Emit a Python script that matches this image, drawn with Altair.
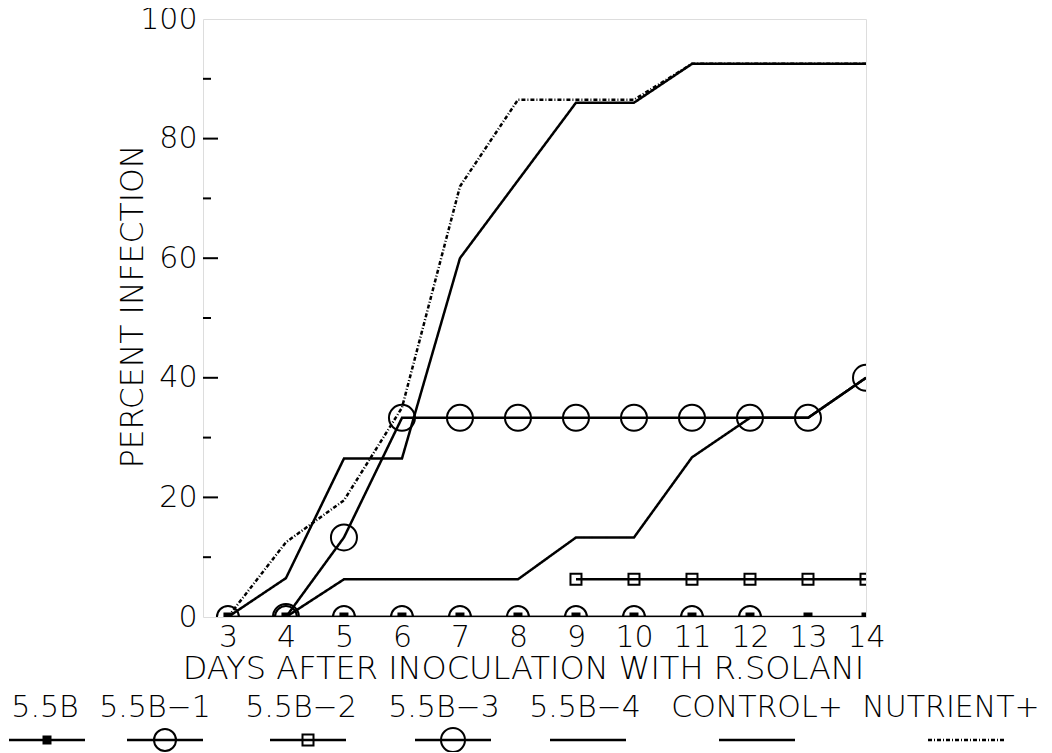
import altair as alt
import pandas as pd

# ---------------- data ----------------
series_names = ["5.5B", "5.5B−1", "5.5B−2", "5.5B−3", "5.5B−4", "CONTROL+", "NUTRIENT+"]
x_ticks = [3, 4, 5, 6, 7, 8, 9, 10, 11, 12, 13, 14]
y_ticks = [0, 20, 40, 60, 80, 100]
y_inner_ticks = [10, 20, 30, 40, 50, 60, 70, 80, 90]
y_inner_kind = ["minor", "major", "minor", "major", "minor", "major", "minor", "major", "minor"]

b55_days = [3, 4, 5, 6, 7, 8, 9, 10, 11, 12, 13, 14]
b55_vals = [0, 0, 0, 0, 0, 0, 0, 0, 0, 0, 0, 0]

b551_days = [3, 4, 5, 6, 7, 8, 9, 10, 11, 12]
b551_vals = [0, 0, 0, 0, 0, 0, 0, 0, 0, 0]

b552_days = [9, 10, 11, 12, 13, 14]
b552_vals = [6.3, 6.3, 6.3, 6.3, 6.3, 6.3]

b553_days = [4, 5, 6, 7, 8, 9, 10, 11, 12, 13, 14]
b553_vals = [0, 13.3, 33.3, 33.3, 33.3, 33.3, 33.3, 33.3, 33.3, 33.3, 40]

b554_days = [4, 5, 6, 7, 8, 9, 10, 11, 12, 13, 14]
b554_vals = [0, 6.3, 6.3, 6.3, 6.3, 13.3, 13.3, 26.7, 33.3, 33.3, 40]

control_days = [3, 4, 5, 6, 7, 8, 9, 10, 11, 12, 13, 14]
control_vals = [0, 6.5, 26.5, 26.5, 60, 73, 86, 86, 92.5, 92.5, 92.5, 92.5]

nutrient_days = [3, 4, 5, 6, 7, 8, 9, 10, 11, 12, 13, 14]
nutrient_vals = [0, 12.5, 19.5, 35, 72, 86.5, 86.5, 86.5, 92.5, 92.5, 92.5, 92.5]

rows = []
for name, ds, vs in [
    ("NUTRIENT+", nutrient_days, nutrient_vals),
    ("CONTROL+", control_days, control_vals),
    ("5.5B−4", b554_days, b554_vals),
    ("5.5B−3", b553_days, b553_vals),
    ("5.5B−2", b552_days, b552_vals),
    ("5.5B−1", b551_days, b551_vals),
    ("5.5B", b55_days, b55_vals),
]:
    for d, v in zip(ds, vs):
        rows.append({"series": name, "day": d, "pct": v})
df = pd.DataFrame(rows)

legend_df = pd.DataFrame({"series": series_names, "idx": list(range(len(series_names)))})
ticks_df = pd.DataFrame({"tv": y_inner_ticks, "kind": y_inner_kind})

# ---------------- styles ----------------
FONT = "DejaVu Sans"
W, H = 663, 598

width_scale = alt.Scale(domain=series_names, range=[2.5, 2.5, 2.5, 4.5, 4.5, 2.5, 2])
dash_scale = alt.Scale(domain=series_names,
                       range=[[1, 0], [1, 0], [1, 0], [1, 0], [1, 0], [1, 0], [4, 2, 1, 2]])
# series -> (shape, size, filled)
marker_style = {
    "5.5B": ("square", 81, True),
    "5.5B−1": ("circle", 484, False),
    "5.5B−2": ("square", 121, False),
    "5.5B−3": ("circle", 676, False),
}

xscale = alt.Scale(domain=[2.57, 14], nice=False, zero=False)
yscale = alt.Scale(domain=[0, 100], nice=False, zero=False)

x_axis = alt.Axis(values=x_ticks, format="d", title="DAYS AFTER INOCULATION WITH R.SOLANI",
                  grid=False, domain=False, ticks=False, tickSize=0, labelPadding=5,
                  labelFontSize=30, labelFont=FONT, labelFontWeight=200, labelColor="black",
                  labelFlush=False, labelOverlap=False,
                  titleFontSize=32, titleFont=FONT, titleFontWeight=200, titleColor="black",
                  titleX=320, titleY=61, titleBaseline="alphabetic", titleAlign="center")
y_axis = alt.Axis(values=y_ticks, format="d", title="PERCENT INFECTION",
                  grid=False, domain=False, ticks=False, tickSize=0, labelPadding=6,
                  labelFontSize=30, labelFont=FONT, labelFontWeight=200, labelColor="black",
                  labelFlush=False, labelOverlap=False,
                  titleFontSize=31.5, titleFont=FONT, titleFontWeight=200, titleColor="black",
                  titleX=-61, titleY=287, titleBaseline="alphabetic", titleAlign="center",
                  titleAngle=270)

# ---------------- main plot ----------------
lines = alt.Chart(df).mark_line(color="black", clip=True).encode(
    x=alt.X("day:Q", scale=xscale, axis=x_axis),
    y=alt.Y("pct:Q", scale=yscale, axis=y_axis),
    detail="series:N",
    strokeWidth=alt.StrokeWidth("series:N", scale=width_scale, legend=None),
    strokeDash=alt.StrokeDash("series:N", scale=dash_scale, legend=None),
)


def plot_markers(name):
    shape, size, filled = marker_style[name]
    mk = dict(color="black", filled=filled, opacity=1, clip=True, shape=shape, size=size)
    if not filled:
        mk["strokeWidth"] = 2
    return alt.Chart(df).transform_filter(
        alt.FieldEqualPredicate(field="series", equal=name)
    ).mark_point(**mk).encode(
        x=alt.X("day:Q", scale=xscale),
        y=alt.Y("pct:Q", scale=yscale),
    )


def inner_ticks(kind, length):
    return alt.Chart(ticks_df).transform_filter(
        alt.FieldEqualPredicate(field="kind", equal=kind)
    ).mark_rule(color="black", strokeWidth=2, opacity=1).encode(
        y=alt.Y("tv:Q", scale=yscale),
        x=alt.value(0),
        x2=alt.value(length),
    )


main = alt.layer(lines, *[plot_markers(n) for n in marker_style],
                 inner_ticks("major", 15), inner_ticks("minor", 8))

# ---------------- legend (labels above symbols) ----------------
label_pos = [-158, -48, 98, 241, 382, 554, 748]
sym_pos = [-156, -38, 105, 250, 385, 554, 763]
lx = alt.Scale(domain=list(range(7)), range=label_pos, nice=False, zero=False)
sx = alt.Scale(domain=list(range(7)), range=sym_pos, nice=False, zero=False)

leg_text = alt.Chart(legend_df).mark_text(
    font=FONT, fontSize=30, fontWeight=200, color="black", baseline="alphabetic", align="center"
).encode(x=alt.X("idx:Q", scale=lx, axis=None), y=alt.value(698), text="series:N")

leg_lines = alt.Chart(legend_df).mark_rule(color="black", xOffset=-38, x2Offset=38).encode(
    x=alt.X("idx:Q", scale=sx, axis=None), x2="idx:Q", y=alt.value(721),
    strokeWidth=alt.StrokeWidth("series:N", scale=width_scale, legend=None),
    strokeDash=alt.StrokeDash("series:N", scale=dash_scale, legend=None),
)


def legend_markers(name):
    shape, size, filled = marker_style[name]
    mk = dict(color="black", filled=filled, opacity=1, shape=shape, size=min(size, 576))
    if not filled:
        mk["strokeWidth"] = 2
    return alt.Chart(legend_df).transform_filter(
        alt.FieldEqualPredicate(field="series", equal=name)
    ).mark_point(**mk).encode(x=alt.X("idx:Q", scale=sx, axis=None), y=alt.value(721))


chart = alt.layer(
    main, leg_text, leg_lines, *[legend_markers(n) for n in marker_style]
).resolve_scale(
    x="independent"
).properties(
    width=W, height=H,
    autosize=alt.AutoSizeParams(type="none"),
    padding={"left": 195, "top": 11, "right": 178, "bottom": 135},
).configure_view(
    stroke="black", strokeWidth=2
).configure(
    background="white", font=FONT
)

chart.save("out.html", embed_options={"renderer": "svg", "actions": False})
